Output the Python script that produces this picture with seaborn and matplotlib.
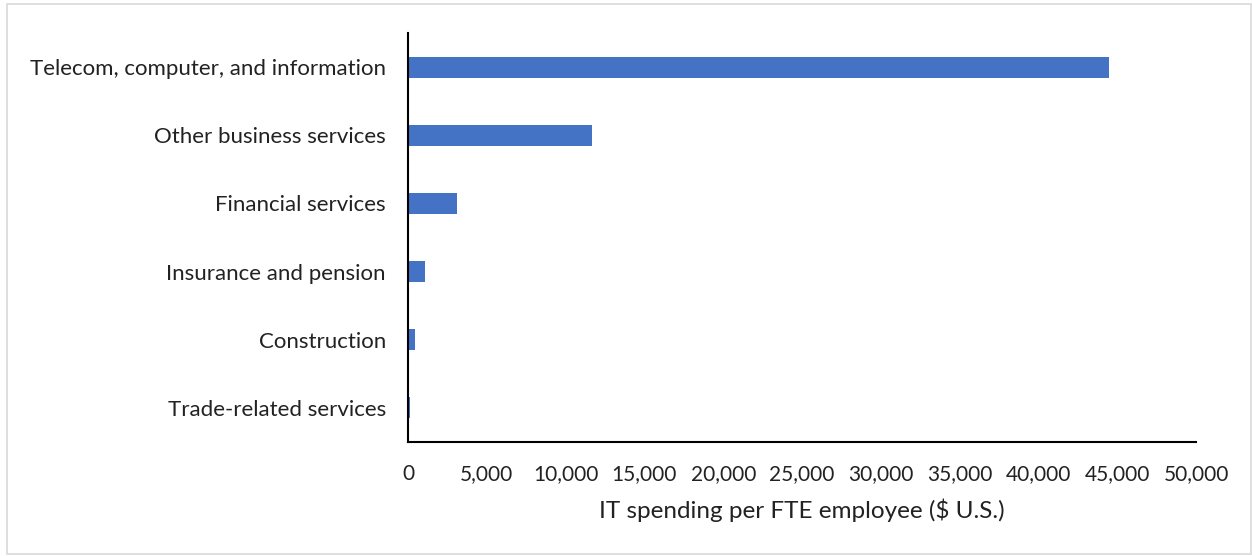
import matplotlib
matplotlib.use("Agg")
import matplotlib.pyplot as plt
import seaborn as sns
import pandas as pd
from matplotlib.patches import Rectangle
from matplotlib.ticker import FuncFormatter

categories = ["Telecom, computer, and information", "Other business services",
              "Financial services", "Insurance and pension", "Construction",
              "Trade-related services"]
values = [44500, 11700, 3100, 1100, 440, 150]
xticks = [0, 5000, 10000, 15000, 20000, 25000, 30000, 35000, 40000, 45000, 50000]

sns.set_theme(style="white")
plt.rcParams['font.family'] = ['Lato', 'DejaVu Sans']

df = pd.DataFrame({"cat": categories, "val": values})

fig = plt.figure(figsize=(12.52, 5.56), dpi=100)
ax = fig.add_axes([408/1252, 1 - 442/556, (1196-408)/1252, (442-33)/556])
sns.barplot(data=df, x="val", y="cat", color="#4472C4", width=0.31,
            saturation=1, ax=ax, order=categories, linewidth=0)

ax.set_xlim(0, 50000)
ax.set_ylim(5.5, -0.5)
ax.set_xticks(xticks)
ax.xaxis.set_major_formatter(FuncFormatter(lambda v, p: f"{int(v):,}"))
ax.tick_params(axis="both", length=0, colors="#222222")
ax.tick_params(axis="x", pad=16, labelsize=15)
ax.tick_params(axis="y", pad=16, labelsize=16)
ax.set_ylabel("")
ax.set_xlabel("IT spending per FTE employee ($ U.S.)", fontsize=17.5,
              color="#222222", labelpad=10)
for s in ["top", "right"]:
    ax.spines[s].set_visible(False)
for s in ["left", "bottom"]:
    ax.spines[s].set_color("black")
    ax.spines[s].set_linewidth(1.5)

fig.patches.append(Rectangle((7/1252, 0.004), 1 - 8/1252, 1 - 4/556 - 0.004,
                             transform=fig.transFigure, fill=False,
                             edgecolor="#d9d9d9", linewidth=1.2))

fig.savefig("out.png", dpi=100)
